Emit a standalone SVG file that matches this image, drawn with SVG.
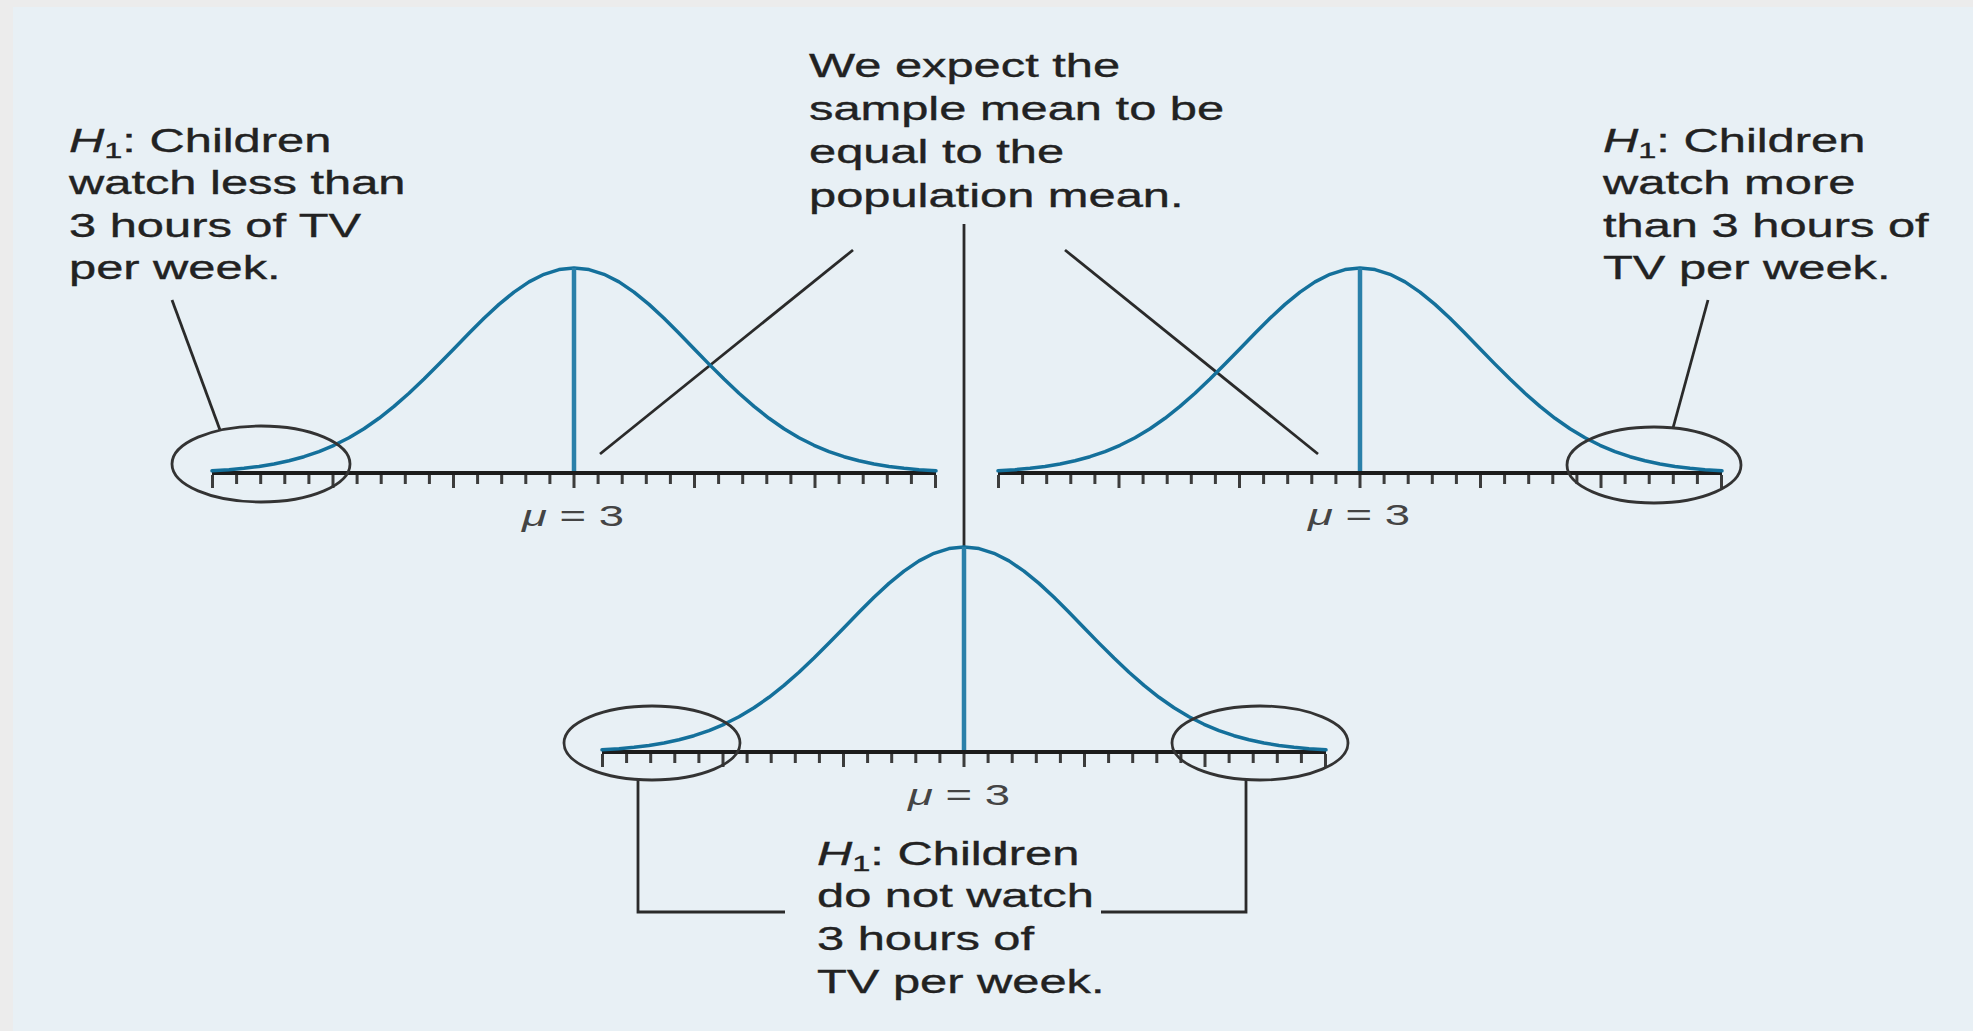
<svg xmlns="http://www.w3.org/2000/svg" xmlns:xlink="http://www.w3.org/1999/xlink" width="1973" height="1031" viewBox="0 0 1973 1031">
<style>
.txt{font-family:"Liberation Sans",Arial,sans-serif;font-size:33px;fill:#222;stroke:#222;stroke-width:0.35}
.mu{font-family:"Liberation Sans",Arial,sans-serif;font-size:29px;fill:#444}
.curve{fill:none;stroke:#14709b;stroke-width:3.5;stroke-linejoin:round;stroke-linecap:round}
.mean{stroke:#2a80a9;stroke-width:4.5}
.axis{stroke:#1c1c1c;stroke-width:4}
.tick{stroke:#3c3c3c;stroke-width:3;fill:none}
.ell{fill:none;stroke:#333;stroke-width:2.8}
.lead{fill:none;stroke:#2a2a2a;stroke-width:2.8}
</style>
<defs>
<path id="bell" class="curve" d="M-362,-2.2 L-345,-3.3 L-330,-4.7 L-315,-6.5 L-300,-9 L-285,-12.2 L-270,-16.3 L-255,-21.4 L-240,-27.7 L-225,-35.3 L-210,-44.3 L-195,-54.7 L-180,-66.6 L-165,-79.7 L-150,-93.9 L-135,-108.9 L-120,-124.3 L-105,-139.8 L-90,-154.7 L-75,-168.6 L-60,-180.9 L-45,-191.1 L-30,-198.7 L-15,-203.4 L0,-205 L15,-203.4 L30,-198.7 L45,-191.1 L60,-180.9 L75,-168.6 L90,-154.7 L105,-139.8 L120,-124.3 L135,-108.9 L150,-93.9 L165,-79.7 L180,-66.6 L195,-54.7 L210,-44.3 L225,-35.3 L240,-27.7 L255,-21.4 L270,-16.3 L285,-12.2 L300,-9 L315,-6.5 L330,-4.7 L345,-3.3 L362,-2.2"/>
<g id="axis">
<line class="axis" x1="-362" y1="0" x2="362" y2="0"/>
<path class="tick" d="M-361.5,2V15 M-241,2V15 M-120.5,2V15 M0,2V15 M120.5,2V15 M241,2V15 M361.5,2V15 M-337.4,2V11 M-313.3,2V11 M-289.2,2V11 M-265.1,2V11 M-216.9,2V11 M-192.8,2V11 M-168.7,2V11 M-144.6,2V11 M-96.4,2V11 M-72.3,2V11 M-48.2,2V11 M-24.1,2V11 M24.1,2V11 M48.2,2V11 M72.3,2V11 M96.4,2V11 M144.6,2V11 M168.7,2V11 M192.8,2V11 M216.9,2V11 M265.1,2V11 M289.2,2V11 M313.3,2V11 M337.4,2V11"/>
</g>
<g id="dist">
<use xlink:href="#axis"/>
<use xlink:href="#bell"/>
<line class="mean" x1="0" y1="-2" x2="0" y2="-205"/>
</g>
</defs>
<rect x="0" y="0" width="1973" height="1031" fill="#ececec"/>
<rect x="13" y="7" width="1960" height="1024" fill="#e8f0f5"/>

<g id="connectors">
<line class="lead" x1="172" y1="300" x2="220" y2="430"/>
<line class="lead" x1="1708" y1="300" x2="1673" y2="428"/>
<line class="lead" x1="600" y1="454" x2="853" y2="250"/>
<line class="lead" x1="1065" y1="250" x2="1318" y2="454"/>
<line class="lead" x1="964" y1="224" x2="964" y2="548" stroke-width="3.2"/>
<polyline class="lead" points="638,780 638,912 785,912" stroke-width="3.2"/>
<polyline class="lead" points="1246,780 1246,912 1101,912" stroke-width="3.2"/>
</g>

<g id="plot-left">
<use xlink:href="#dist" transform="translate(574,473)"/>
<ellipse class="ell" cx="261" cy="464" rx="89" ry="38"/>
<text class="mu" x="522" y="526" textLength="102" lengthAdjust="spacingAndGlyphs"><tspan font-style="italic">μ</tspan> = 3</text>
</g>

<g id="plot-right">
<use xlink:href="#dist" transform="translate(1360,473)"/>
<ellipse class="ell" cx="1654" cy="465" rx="87" ry="38"/>
<text class="mu" x="1308" y="525" textLength="102" lengthAdjust="spacingAndGlyphs"><tspan font-style="italic">μ</tspan> = 3</text>
</g>

<g id="plot-center">
<use xlink:href="#dist" transform="translate(964,752)"/>
<ellipse class="ell" cx="652" cy="743" rx="88" ry="37"/>
<ellipse class="ell" cx="1260" cy="743" rx="88" ry="37"/>
<text class="mu" x="908" y="805" textLength="102" lengthAdjust="spacingAndGlyphs"><tspan font-style="italic">μ</tspan> = 3</text>
</g>

<g id="label-less" transform="translate(69,0) scale(1.48,1)">
<text class="txt" x="0" y="152"><tspan font-style="italic">H</tspan><tspan font-size="22" dy="6">1</tspan><tspan dy="-6">: Children</tspan></text>
<text class="txt" x="0" y="194">watch less than</text>
<text class="txt" x="0" y="237">3 hours of TV</text>
<text class="txt" x="0" y="279">per week.</text>
</g>

<g id="label-expect" transform="translate(809,0) scale(1.48,1)">
<text class="txt" x="0" y="77">We expect the</text>
<text class="txt" x="0" y="120">sample mean to be</text>
<text class="txt" x="0" y="163">equal to the</text>
<text class="txt" x="0" y="207">population mean.</text>
</g>

<g id="label-more" transform="translate(1603,0) scale(1.48,1)">
<text class="txt" x="0" y="152"><tspan font-style="italic">H</tspan><tspan font-size="22" dy="6">1</tspan><tspan dy="-6">: Children</tspan></text>
<text class="txt" x="0" y="194">watch more</text>
<text class="txt" x="0" y="237">than 3 hours of</text>
<text class="txt" x="0" y="279">TV per week.</text>
</g>

<g id="label-not" transform="translate(817,0) scale(1.48,1)">
<text class="txt" x="0" y="865"><tspan font-style="italic">H</tspan><tspan font-size="22" dy="6">1</tspan><tspan dy="-6">: Children</tspan></text>
<text class="txt" x="0" y="907">do not watch</text>
<text class="txt" x="0" y="950">3 hours of</text>
<text class="txt" x="0" y="993">TV per week.</text>
</g>
</svg>
